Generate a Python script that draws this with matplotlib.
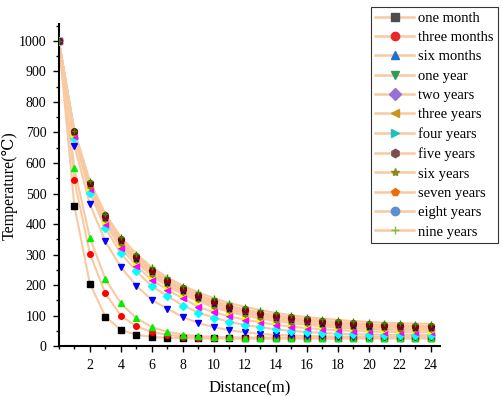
import matplotlib
matplotlib.use("Agg")
import matplotlib.pyplot as plt
from matplotlib.lines import Line2D
from matplotlib.ticker import MultipleLocator

plt.rcParams['font.family'] = ['Liberation Serif', 'DejaVu Serif']

distance = list(range(0, 25))

one_month = [1000, 460, 205, 97, 53, 37, 30, 27, 26, 25, 25, 25, 25, 25, 25, 25, 25, 25, 25, 25, 25, 25, 25, 25, 25]
three_months = [1000, 545, 303, 173, 100, 65, 46, 37, 31, 28, 27, 26, 26, 26, 26, 26, 26, 26, 26, 26, 26, 26, 26, 26, 26]
six_months = [1000, 583, 355, 220, 140, 92, 62, 47, 38, 33, 30, 29, 28, 28, 28, 28, 28, 28, 28, 28, 28, 28, 28, 28, 28]
one_year = [1000, 657, 466, 343, 259, 198, 151, 123, 95, 76, 62, 52, 45, 40, 37, 35, 33, 32, 31, 31, 30, 30, 30, 30, 30]
two_years = [1000, 681, 502, 386, 304, 245, 196, 164, 133, 110, 93, 80, 69, 62, 55, 50, 46, 43, 41, 39, 38, 37, 37, 36, 36]
three_years = [1000, 690, 514, 401, 321, 264, 216, 185, 156, 129, 111, 98, 86, 78, 70, 64, 59, 55, 52, 50, 48, 47, 46, 45, 45]
four_years = [1000, 695, 522, 410, 333, 276, 230, 197, 170, 147, 127, 112, 100, 90, 82, 75, 70, 65, 61, 58, 56, 54, 53, 52, 51]
five_years = [1000, 698, 526, 416, 338, 281, 236, 203, 176, 153, 133, 118, 106, 96, 87, 80, 75, 70, 66, 63, 60, 58, 57, 56, 55]
six_years = [1000, 700, 530, 420, 343, 287, 242, 208, 181, 158, 139, 123, 111, 101, 92, 85, 79, 74, 70, 67, 64, 62, 61, 60, 59]
seven_years = [1000, 702, 533, 424, 347, 291, 246, 213, 186, 163, 144, 128, 115, 105, 96, 89, 83, 78, 74, 71, 68, 66, 64, 63, 62]
eight_years = [1000, 704, 536, 428, 351, 296, 251, 218, 191, 168, 149, 133, 120, 110, 101, 94, 88, 83, 79, 75, 72, 70, 68, 67, 66]
nine_years = [1000, 706, 540, 433, 357, 302, 258, 225, 198, 176, 157, 141, 129, 118, 109, 101, 95, 90, 86, 82, 79, 77, 75, 74, 73]

labels = ['one month', 'three months', 'six months', 'one year', 'two years', 'three years',
          'four years', 'five years', 'six years', 'seven years', 'eight years', 'nine years']
series = [one_month, three_months, six_months, one_year, two_years, three_years,
          four_years, five_years, six_years, seven_years, eight_years, nine_years]

markers = ['s', 'o', '^', 'v', 'D', '<', '>', 'h', '*', 'p', 'o', '+']
plot_colors = ['black', 'red', '#00ee00', 'blue', 'cyan', 'magenta', 'yellow',
               '#808000', '#000080', '#800080', '#800000', '#2e8b00']
legend_colors = ['#4d4d4d', '#e8262b', '#1f6fd0', '#2e9b5a', '#9a6fd6', '#c8961a',
                 '#1fbfbf', '#7a4f4f', '#8a8a1a', '#f06a0a', '#5b8fd0', '#7ac143']
line_color = '#f9c9a2'

fig = plt.figure(figsize=(5.03, 3.96), dpi=100)
ax = fig.add_axes([0.117, 0.126, 0.758, 0.813])

for vals in series:
    ax.plot(distance, vals, color=line_color, lw=1.5, zorder=1)
for vals, m, c in zip(series, markers, plot_colors):
    ax.plot(distance, vals, ls='none', marker=m, color=c, ms=4, mew=1, zorder=3)

ax.set_xlim(0, 24.6)
ax.set_ylim(0, 1055)
ax.set_xticks(range(2, 25, 2))
ax.xaxis.set_minor_locator(MultipleLocator(1))
ax.yaxis.set_major_locator(MultipleLocator(100))
ax.yaxis.set_minor_locator(MultipleLocator(50))
ax.tick_params(which='major', direction='out', length=4, width=1, labelsize=10, pad=5)
ax.tick_params(which='minor', direction='out', length=2, width=1)
ax.spines['top'].set_visible(False)
ax.spines['right'].set_visible(False)
ax.spines['left'].set_linewidth(1.5)
ax.spines['bottom'].set_linewidth(1.5)

ax.set_xlabel('Distance(m)', fontsize=12)
ax.set_ylabel('Temperature(℃)', fontsize=11.5)
ax.xaxis.set_label_coords(0.5, -0.105)
ax.yaxis.set_label_coords(-0.108, 0.5)

handles = [Line2D([], [], color=line_color, lw=1.8, marker=m, markerfacecolor=c,
                  markeredgecolor=c, ms=6)
           for m, c in zip(markers, legend_colors)]
leg = fig.legend(handles, labels, loc='upper left', bbox_to_anchor=(0.737, 0.982),
                 fontsize=10.5, frameon=True, fancybox=False, edgecolor='black',
                 handlelength=2.7, handletextpad=0.25, labelspacing=0.42,
                 borderpad=0.3, borderaxespad=0)
leg.get_frame().set_linewidth(0.8)

fig.savefig('out.png', dpi=100)
